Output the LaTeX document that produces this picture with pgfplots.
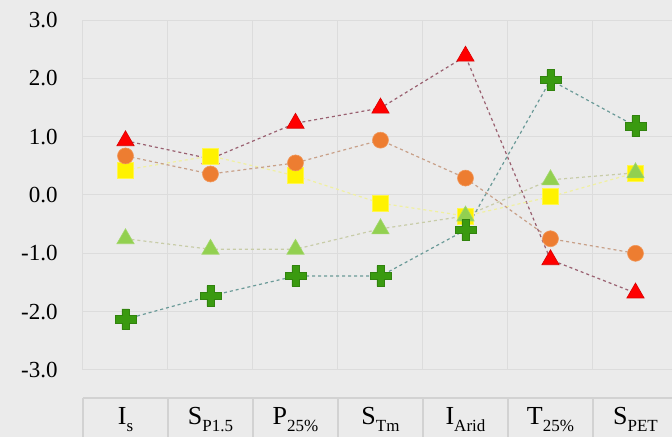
\documentclass[border=0pt]{standalone}
\usepackage{pgfplots}
\pgfplotsset{compat=1.18}
\usepackage{fontspec}
\setmainfont{Liberation Serif}
\definecolor{bg}{HTML}{EBEBEB}
\definecolor{gridc}{HTML}{DCDCDC}
\definecolor{tablec}{HTML}{D2D2D2}
\definecolor{redline}{HTML}{9A6070}
\definecolor{orline}{HTML}{C8A088}
\definecolor{yeline}{HTML}{F0F0A0}
\definecolor{lgline}{HTML}{C8CCA8}
\definecolor{dgline}{HTML}{6A9A98}
\definecolor{orfill}{HTML}{ED7D31}
\definecolor{lgfill}{HTML}{92D050}
\definecolor{dgfill}{HTML}{3A9A10}
\pgfdeclareplotmark{fatcross}{%
  \pgfpathmoveto{\pgfpoint{-0.35\pgfplotmarksize}{\pgfplotmarksize}}%
  \pgfpathlineto{\pgfpoint{0.35\pgfplotmarksize}{\pgfplotmarksize}}%
  \pgfpathlineto{\pgfpoint{0.35\pgfplotmarksize}{0.35\pgfplotmarksize}}%
  \pgfpathlineto{\pgfpoint{\pgfplotmarksize}{0.35\pgfplotmarksize}}%
  \pgfpathlineto{\pgfpoint{\pgfplotmarksize}{-0.35\pgfplotmarksize}}%
  \pgfpathlineto{\pgfpoint{0.35\pgfplotmarksize}{-0.35\pgfplotmarksize}}%
  \pgfpathlineto{\pgfpoint{0.35\pgfplotmarksize}{-\pgfplotmarksize}}%
  \pgfpathlineto{\pgfpoint{-0.35\pgfplotmarksize}{-\pgfplotmarksize}}%
  \pgfpathlineto{\pgfpoint{-0.35\pgfplotmarksize}{-0.35\pgfplotmarksize}}%
  \pgfpathlineto{\pgfpoint{-\pgfplotmarksize}{-0.35\pgfplotmarksize}}%
  \pgfpathlineto{\pgfpoint{-\pgfplotmarksize}{0.35\pgfplotmarksize}}%
  \pgfpathlineto{\pgfpoint{-0.35\pgfplotmarksize}{0.35\pgfplotmarksize}}%
  \pgfpathclose
  \pgfusepathqfillstroke
}
\newcommand\sub[1]{\raisebox{-3pt}{\fontsize{8.5}{9}\selectfont #1}}
\begin{document}
\begin{tikzpicture}
\fill[bg] (-41.5pt,-33.5pt) rectangle (294.5pt,185pt);
\begin{axis}[at={(0pt,0pt)}, anchor=south west, scale only axis,
  width=297.5pt, height=175pt,
  xmin=-0.5, xmax=6.5, ymin=-3, ymax=3,
  xtick={0,...,6},
  xticklabels={I\sub{s}, S\sub{P1.5}, P\sub{25\%}, S\sub{Tm}, I\sub{Arid}, T\sub{25\%}, S\sub{PET}},
  minor xtick={-0.5,0.5,...,6.5}, xminorgrids=true, ymajorgrids=true, xmajorgrids=false,
  ytick={-3,...,3}, yticklabels={-3.0,-2.0,-1.0,0.0,1.0,2.0,3.0},
  grid style={gridc, line width=0.5pt}, minor grid style={gridc, line width=0.5pt},
  axis line style={draw=none}, major tick length=0pt, minor tick length=0pt,
  tick style={draw=none},
  xticklabel style={anchor=base, inner sep=0pt, yshift=-27.5pt, font=\fontsize{13}{15}\selectfont},
  yticklabel style={anchor=east, inner sep=0pt, xshift=-12.5pt, font=\fontsize{11.5}{13}\selectfont},
  clip=false,
]
\draw[tablec, line width=0.6pt] (axis cs:-0.5,-3.48) -- (axis cs:6.5,-3.48);
\draw[tablec, line width=0.6pt] (axis cs:-0.5,-3.48) -- (axis cs:-0.5,-4.3)
  (axis cs:0.5,-3.48) -- (axis cs:0.5,-4.3)
  (axis cs:1.5,-3.48) -- (axis cs:1.5,-4.3)
  (axis cs:2.5,-3.48) -- (axis cs:2.5,-4.3)
  (axis cs:3.5,-3.48) -- (axis cs:3.5,-4.3)
  (axis cs:4.5,-3.48) -- (axis cs:4.5,-4.3)
  (axis cs:5.5,-3.48) -- (axis cs:5.5,-4.3)
  (axis cs:6.5,-3.48) -- (axis cs:6.5,-4.3);
% red triangles
\addplot[color=redline, line width=0.6pt, dash pattern=on 1.5pt off 1.5pt,
  mark=triangle*, mark size=5pt,
  mark options={solid, fill=red, draw=red!85!black, line width=0.3pt}]
  coordinates {(0,0.93) (1,0.62) (2,1.23) (3,1.49) (4,2.38) (5,-1.11) (6,-1.68)};
% yellow squares
\addplot[color=yeline, line width=0.6pt, dash pattern=on 1.5pt off 1.5pt,
  mark=square*, mark size=4pt,
  mark options={solid, fill=yellow, draw=yellow!70!white, line width=0.3pt}]
  coordinates {(0,0.43) (1,0.67) (2,0.33) (3,-0.14) (4,-0.36) (5,-0.03) (6,0.38)};
% orange circles
\addplot[color=orline, line width=0.6pt, dash pattern=on 1.5pt off 1.5pt,
  mark=*, mark size=4pt,
  mark options={solid, fill=orfill, draw=orfill!80!white, line width=0.3pt}]
  coordinates {(0,0.67) (1,0.36) (2,0.55) (3,0.94) (4,0.29) (5,-0.75) (6,-1.00)};
% light green triangles
\addplot[color=lgline, line width=0.6pt, dash pattern=on 1.5pt off 1.5pt,
  mark=triangle*, mark size=5pt,
  mark options={solid, fill=lgfill, draw=lgfill!85!white, line width=0.3pt}]
  coordinates {(0,-0.75) (1,-0.93) (2,-0.93) (3,-0.58) (4,-0.36) (5,0.26) (6,0.38)};
% dark green crosses
\addplot[color=dgline, line width=0.6pt, dash pattern=on 1.5pt off 1.5pt,
  mark=fatcross, mark size=5.2pt,
  mark options={solid, fill=dgfill, draw=dgfill!85!black, line width=0.3pt}]
  coordinates {(0,-2.13) (1,-1.73) (2,-1.39) (3,-1.39) (4,-0.60) (5,1.97) (6,1.18)};
\end{axis}
\pgfresetboundingbox
\useasboundingbox (-41.5pt,-33.5pt) rectangle (294.5pt,185pt);
\end{tikzpicture}
\end{document}
